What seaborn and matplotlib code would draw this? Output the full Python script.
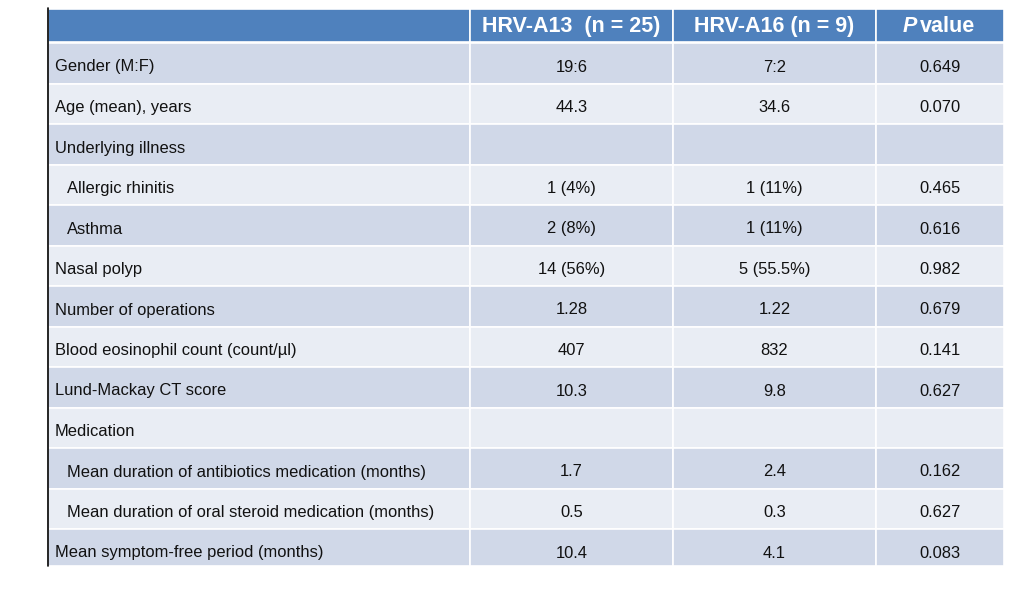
import matplotlib
matplotlib.use("Agg")
import matplotlib.pyplot as plt
import seaborn as sns

# Table content
headers = ["", "HRV-A13  (n = 25)", "HRV-A16 (n = 9)", "P value"]
labels = ["Gender (M:F)", "Age (mean), years", "Underlying illness", "Allergic rhinitis",
          "Asthma", "Nasal polyp", "Number of operations", "Blood eosinophil count (count/\u00b5l)",
          "Lund-Mackay CT score", "Medication", "Mean duration of antibiotics medication (months)",
          "Mean duration of oral steroid medication (months)", "Mean symptom-free period (months)"]
indented = [False, False, False, True, True, False, False, False, False, False, True, True, False]
hrv_a13 = ["19:6", "44.3", "", "1 (4%)", "2 (8%)", "14 (56%)", "1.28", "407", "10.3", "", "1.7", "0.5", "10.4"]
hrv_a16 = ["7:2", "34.6", "", "1 (11%)", "1 (11%)", "5 (55.5%)", "1.22", "832", "9.8", "", "2.4", "0.3", "4.1"]
p_values = ["0.649", "0.070", "", "0.465", "0.616", "0.982", "0.679", "0.141", "0.627", "", "0.162", "0.627", "0.083"]

sns.set_theme(style="white")
plt.rcParams['font.family'] = ['Liberation Sans', 'DejaVu Sans']

# layout in pixel units
col_edges = [48, 470, 673, 876, 1004]
head_top, head_bot = 9, 42
row_top0, row_h, table_bot = 43, 40.5, 566
header_col = "#4f81bd"
dark_col = "#d0d8e8"
light_col = "#e9edf4"

fig = plt.figure(figsize=(10.36, 6.02), dpi=100)
ax = fig.add_axes([0, 0, 1, 1])
ax.set_xlim(0, 1036)
ax.set_ylim(602, 0)
ax.axis("off")

# header cells
for j in range(4):
    ax.barh((head_top + head_bot) / 2, col_edges[j + 1] - col_edges[j], left=col_edges[j],
            height=head_bot - head_top, color=header_col, edgecolor="white", linewidth=1.2)

hy = 26.5
ax.text(571.5, hy, headers[1], ha="center", va="center", color="white",
        fontsize=15.5, fontweight="bold")
ax.text(774.5, hy, headers[2], ha="center", va="center", color="white",
        fontsize=15.5, fontweight="bold")
ax.text(917, hy, "P", ha="right", va="center", color="white",
        fontsize=15.5, fontweight="bold", fontstyle="italic")
ax.text(920, hy, "value", ha="left", va="center", color="white",
        fontsize=15.5, fontweight="bold")

# body rows
for i, lab in enumerate(labels):
    top = row_top0 + i * row_h
    bot = min(top + row_h, table_bot)
    fill = dark_col if i % 2 == 0 else light_col
    for j in range(4):
        ax.barh((top + bot) / 2, col_edges[j + 1] - col_edges[j], left=col_edges[j],
                height=bot - top, color=fill, edgecolor="white", linewidth=1.2)
    ty = top + 24
    ax.text(67 if indented[i] else 55, ty, lab, ha="left", va="center",
            fontsize=11.9, color="#111111")
    for x, val in zip([571.5, 774.5, 940], [hrv_a13[i], hrv_a16[i], p_values[i]]):
        ax.text(x, ty, val, ha="center", va="center", fontsize=11.9, color="#111111")

# left border line
ax.plot([48, 48], [8, table_bot], color="black", linewidth=1.2)

plt.savefig("out.png", dpi=100)
